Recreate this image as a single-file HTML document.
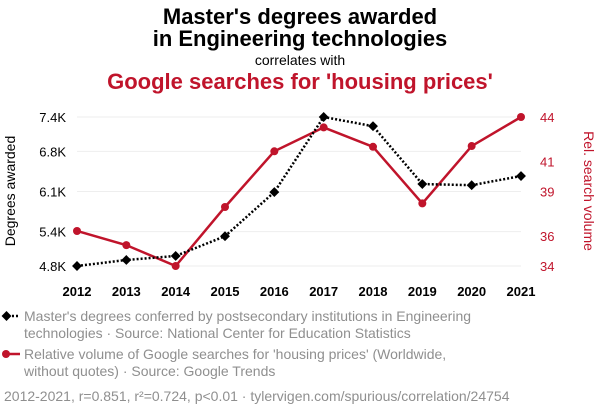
<!DOCTYPE html>
<html><head><meta charset="utf-8"><style>
body{margin:0;background:#fff;font-family:"Liberation Sans",sans-serif;}
svg{display:block}
</style></head><body>
<svg id="c" width="600" height="414" xmlns="http://www.w3.org/2000/svg">
<text x="300" y="24" text-anchor="middle" font-size="22" font-weight="bold" fill="#000">Master's degrees awarded</text>
<text x="300" y="46" text-anchor="middle" font-size="22" font-weight="bold" fill="#000">in Engineering technologies</text>
<text x="300" y="65" text-anchor="middle" font-size="14" fill="#000">correlates with</text>
<text x="300" y="89" text-anchor="middle" font-size="22" font-weight="bold" fill="#c0142b">Google searches for 'housing prices'</text>
<g id="grid"></g><g id="axes"></g><g id="marks"></g>
<text transform="translate(15,191) rotate(-90)" text-anchor="middle" font-size="14" fill="#000">Degrees awarded</text>
<text transform="translate(584,191) rotate(90)" text-anchor="middle" font-size="14" fill="#c0142b">Rel. search volume</text>
<g>
<line x1="4" y1="316" x2="20" y2="316" stroke="#000" stroke-width="2.5" stroke-dasharray="2,2"/>
<rect x="3" y="312.5" width="7" height="7" transform="rotate(45 6.5 316)" fill="#000"/>
<text x="24" y="321" font-size="14" fill="#8f8f8f">Master's degrees conferred by postsecondary institutions in Engineering</text>
<text x="24" y="338" font-size="14" fill="#8f8f8f">technologies · Source: National Center for Education Statistics</text>
</g>
<g>
<line x1="4" y1="354" x2="20" y2="354" stroke="#c0142b" stroke-width="2.5"/>
<circle cx="6" cy="354" r="4" fill="#c0142b"/>
<text x="24" y="359" font-size="14" fill="#8f8f8f">Relative volume of Google searches for 'housing prices' (Worldwide,</text>
<text x="24" y="376" font-size="14" fill="#8f8f8f">without quotes) · Source: Google Trends</text>
</g>
<text x="4" y="401" font-size="14" fill="#8f8f8f">2012-2021, r=0.851, r²=0.724, p&lt;0.01 · tylervigen.com/spurious/correlation/24754</text>
</svg>
<script>
const years=[2012,2013,2014,2015,2016,2017,2018,2019,2020,2021];
const degrees=[4.8,4.905,4.975,5.32,6.09,7.4,7.24,6.23,6.21,6.37];
const searches=[36.35,35.4,34,37.96,41.7,43.3,42.0,38.2,42.05,44];
const leftTicks=[4.8,5.4,6.1,6.8,7.4];
const leftLabels=["4.8K","5.4K","6.1K","6.8K","7.4K"];
const rightTicks=[34,36,39,41,44];
const NS="http://www.w3.org/2000/svg";
const x=y=>77+(y-2012)*(521-77)/9;
const yl=v=>266-(v-4.8)*(149/2.6);
const yr=v=>266-(v-34)*(149/10);
function mk(t,a,p){const e=document.createElementNS(NS,t);for(const k in a)e.setAttribute(k,a[k]);document.getElementById(p).appendChild(e);return e;}
leftTicks.forEach((t,i)=>{
 const g=mk('line',{x1:77,x2:521,y1:yl(t),y2:yl(t),stroke:'#eee','stroke-width':1},'grid');
 
 
 const l=mk('text',{x:66,y:yl(t)+5,'text-anchor':'end','font-size':13,fill:'#000'},'axes');
 l.textContent=leftLabels[i];
 
 
});
rightTicks.forEach(t=>{
 const l=mk('text',{x:540,y:yr(t)+5,'font-size':13,fill:'#c0142b'},'axes');
 l.textContent=t;
 
 
});
years.forEach(yv=>{
 const l=mk('text',{x:x(yv),y:296,'text-anchor':'middle','font-size':13,'font-weight':'bold',fill:'#000'},'axes');
 l.textContent=yv;
 
 
});
const rp=mk('polyline',{points:years.map((yv,i)=>x(yv)+','+yr(searches[i])).join(' '),fill:'none',stroke:'#c0142b','stroke-width':2.5},'marks');


const bp=mk('polyline',{points:years.map((yv,i)=>x(yv)+','+yl(degrees[i])).join(' '),fill:'none',stroke:'#000','stroke-width':2.5,'stroke-dasharray':'2,2'},'marks');


years.forEach((yv,i)=>{
 const c=mk('circle',{cx:x(yv),cy:yr(searches[i]),r:4,fill:'#c0142b'},'marks');
 
 
 const cx=x(yv),cy=yl(degrees[i]);
 const d=mk('rect',{x:cx-3.5,y:cy-3.5,width:7,height:7,fill:'#000',transform:`rotate(45 ${cx} ${cy})`},'marks');
 
 
});
</script>
</body></html>
